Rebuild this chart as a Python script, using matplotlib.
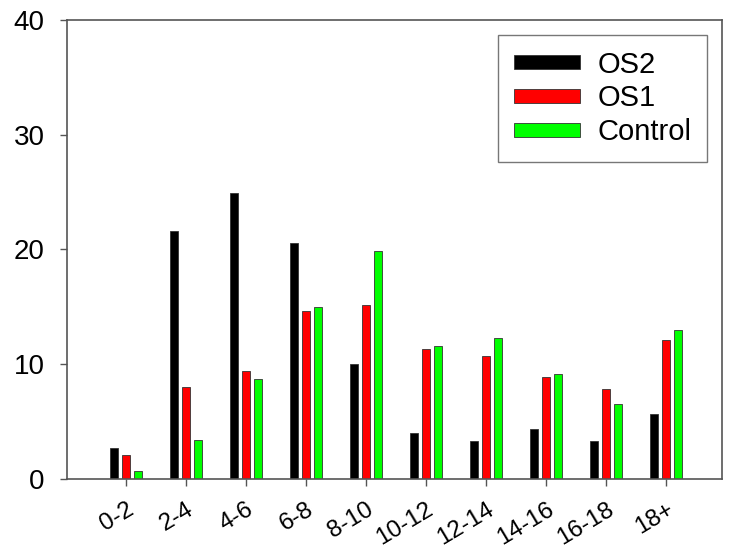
import matplotlib
matplotlib.use("Agg")
import matplotlib.pyplot as plt
from matplotlib.transforms import ScaledTranslation
import numpy as np

plt.rcParams['font.family'] = ['Liberation Sans', 'DejaVu Sans']

categories = ["0-2", "2-4", "4-6", "6-8", "8-10", "10-12", "12-14", "14-16", "16-18", "18+"]
os2 = [2.7, 21.6, 24.9, 20.55, 10.0, 4.0, 3.35, 4.35, 3.35, 5.7]
os1 = [2.1, 8.0, 9.45, 14.6, 15.2, 11.3, 10.7, 8.85, 7.8, 12.15]
control = [0.7, 3.4, 8.75, 15.0, 19.85, 11.6, 12.3, 9.15, 6.5, 13.0]
series = [("OS2", os2, "#000000"), ("OS1", os1, "#ff0000"), ("Control", control, "#00ff00")]
yticks = [0, 10, 20, 30, 40]

fig = plt.figure(figsize=(7.34, 5.55), dpi=100)
ax = fig.add_axes([0.0913, 0.137, 0.8924, 0.827])

x = np.arange(len(categories))
w = 0.125
pitch = 0.2
for i, (name, vals, col) in enumerate(series):
    ax.bar(x + (i - 1) * pitch, vals, width=w, color=col, edgecolor="#333333",
           linewidth=0.6, label=name)

ax.set_xlim(-0.983, 9.93)
ax.set_ylim(0, 40)
ax.set_yticks(yticks)
ax.set_yticklabels([str(t) for t in yticks], fontsize=20)
ax.set_xticks(x)
ax.set_xticklabels(categories, fontsize=17.5, rotation=31, ha='right', va='top',
                   rotation_mode='anchor')
offset = ScaledTranslation(0.05, 0, fig.dpi_scale_trans)
for lab in ax.get_xticklabels():
    lab.set_transform(lab.get_transform() + offset)
for s in ax.spines.values():
    s.set_color("#555555")
    s.set_linewidth(1.2)
ax.tick_params(axis='both', direction='out', length=5, width=1, color="#555555")
ax.tick_params(axis='y', pad=11)
ax.tick_params(axis='x', pad=9)

leg = ax.legend(loc='upper right', fontsize=21, handlelength=2.25, handleheight=0.35,
                frameon=True, fancybox=False, borderaxespad=0.5, labelspacing=0.2,
                handletextpad=0.6, borderpad=0.55)
leg.get_frame().set_edgecolor("#555555")
leg.get_frame().set_linewidth(1.0)

fig.savefig("out.png", dpi=100)
